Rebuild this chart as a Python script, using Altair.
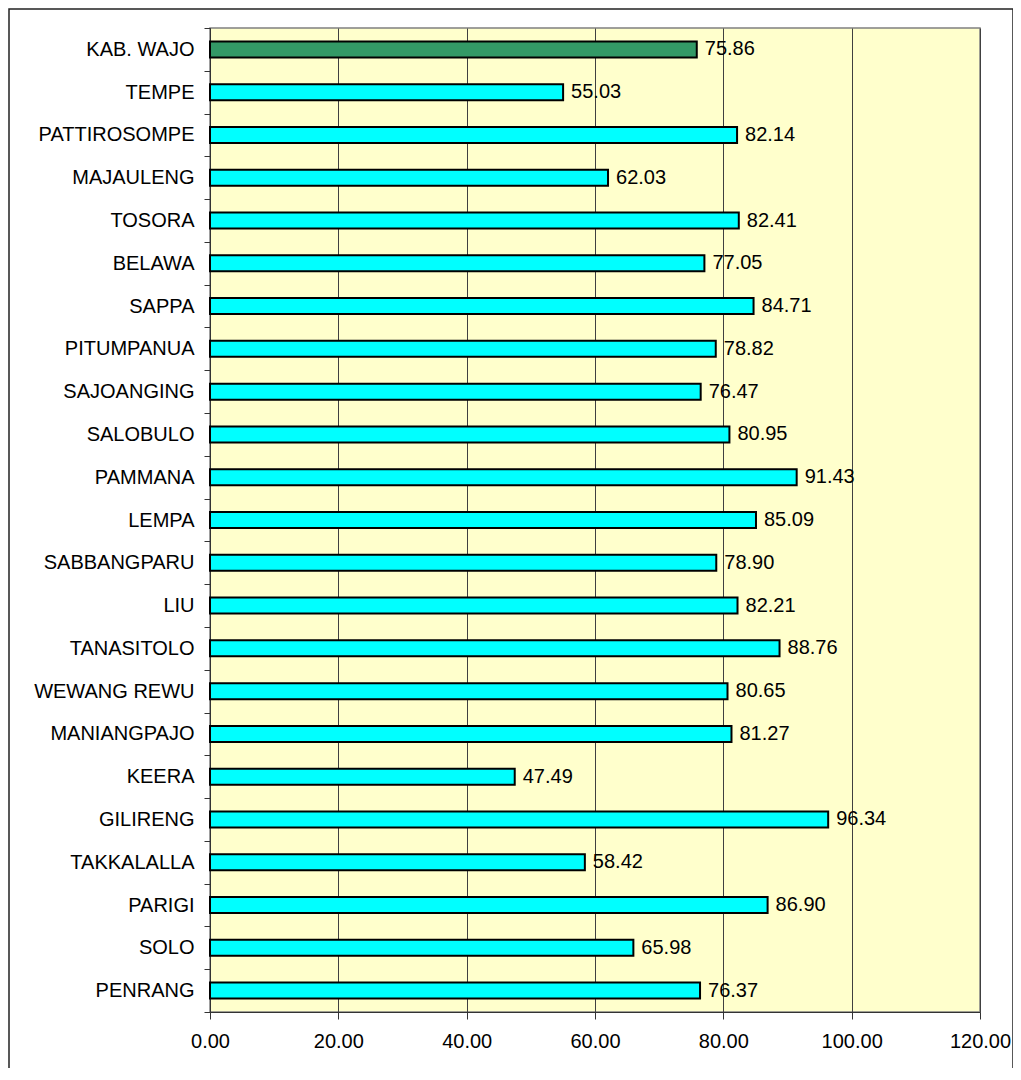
import altair as alt
import pandas as pd

categories = ["KAB. WAJO", "TEMPE", "PATTIROSOMPE", "MAJAULENG", "TOSORA", "BELAWA",
              "SAPPA", "PITUMPANUA", "SAJOANGING", "SALOBULO", "PAMMANA", "LEMPA",
              "SABBANGPARU", "LIU", "TANASITOLO", "WEWANG REWU", "MANIANGPAJO", "KEERA",
              "GILIRENG", "TAKKALALLA", "PARIGI", "SOLO", "PENRANG"]
values = [75.86, 55.03, 82.14, 62.03, 82.41, 77.05, 84.71, 78.82, 76.47, 80.95, 91.43,
          85.09, 78.90, 82.21, 88.76, 80.65, 81.27, 47.49, 96.34, 58.42, 86.90, 65.98, 76.37]
groups = ["Kabupaten"] + ["Kecamatan"] * (len(categories) - 1)
x_ticks = [0, 20, 40, 60, 80, 100, 120]

df = pd.DataFrame({"name": categories, "value": values, "group": groups})

FONT = "Liberation Sans"

y_enc = alt.Y("name:N", sort=categories, title=None,
              scale=alt.Scale(paddingInner=0, paddingOuter=0),
              axis=alt.Axis(tickBand="extent", tickSize=6, tickColor="#333333",
                            domainColor="#333333", labelFontSize=20, labelFont=FONT,
                            labelColor="black", labelPadding=10, grid=False,
                            labelLimit=300))
x_enc = alt.X("value:Q", title=None,
              scale=alt.Scale(domain=[0, 120], nice=False),
              axis=alt.Axis(values=x_ticks, format=".2f", grid=True, gridColor="#404040",
                            gridWidth=1, tickSize=7, tickColor="#333333",
                            domainColor="#333333", labelFontSize=20, labelFont=FONT,
                            labelColor="black", labelPadding=12, labelFlush=False))

base = alt.Chart(df)

bars = base.mark_bar(size=16, stroke="black", strokeWidth=2).encode(
    x=x_enc,
    y=y_enc,
    color=alt.Color("group:N", legend=None,
                    scale=alt.Scale(domain=["Kabupaten", "Kecamatan"],
                                    range=["#339966", "#00FFFF"])),
)

labels = base.mark_text(align="left", baseline="middle", dx=8, fontSize=20,
                        font=FONT, color="black").encode(
    x="value:Q",
    y=alt.Y("name:N", sort=categories),
    text=alt.Text("value:Q", format=".2f"),
)

frame = alt.Chart(alt.Data(values=[{}])).mark_rect(
    fillOpacity=0, stroke="#222222", strokeWidth=1.5, clip=False
).encode(x=alt.value(-201), x2=alt.value(803), y=alt.value(-19), y2=alt.value(1100))

chart = alt.layer(bars, labels, frame).properties(
    width=770, height=984,
    autosize=alt.AutoSizeParams(type="none"),
    padding={"left": 202, "top": 20, "right": 33, "bottom": 56},
).configure(background="white").configure_view(
    fill="#FFFFCC", stroke="#808080", strokeWidth=1.5
)

chart.save("out.html", embed_options={"renderer": "svg", "actions": False})
